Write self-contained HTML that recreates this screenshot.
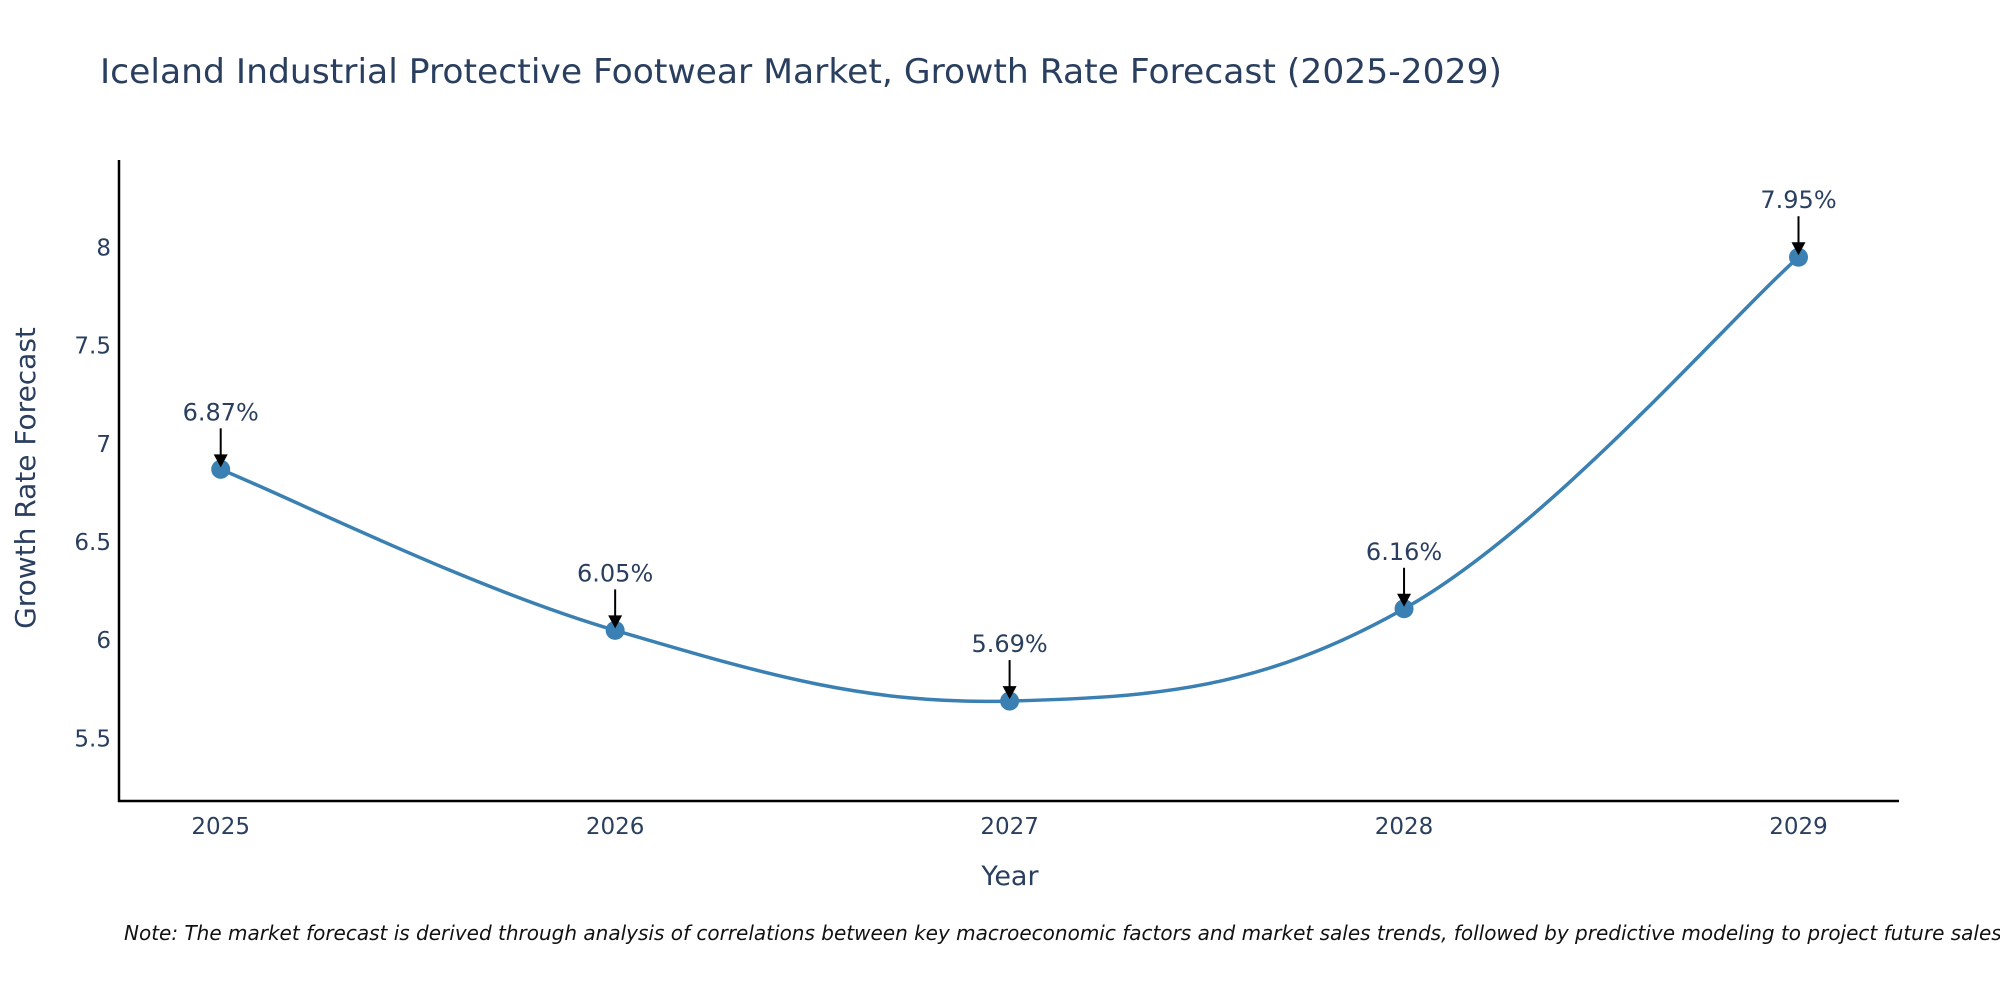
<!DOCTYPE html>
<html><head><meta charset="utf-8"><style>
html,body{margin:0;padding:0;background:#fff;}
svg{display:block;font-family:"DejaVu Sans","Liberation Sans",sans-serif;}
</style></head><body>
<svg id="chart" width="2000" height="1000" xmlns="http://www.w3.org/2000/svg">
<text x="100" y="83" font-size="34" fill="#2a3f5f" textLength="1402" lengthAdjust="spacingAndGlyphs">Iceland Industrial Protective Footwear Market, Growth Rate Forecast (2025-2029)</text>
<g id="yticks"></g><g id="xticks"></g>
<line x1="119" y1="160" x2="119" y2="802" stroke="#000" stroke-width="2.5"/>
<line x1="118" y1="801" x2="1899" y2="801" stroke="#000" stroke-width="2.5"/>
<g id="series"></g>
<text x="1010" y="885" font-size="27" fill="#2a3f5f" text-anchor="middle">Year</text>
<text transform="translate(35,478) rotate(-90)" font-size="28" fill="#2a3f5f" text-anchor="middle">Growth Rate Forecast</text>
<text x="124" y="940" font-size="20" font-style="italic" fill="#111">Note: The market forecast is derived through analysis of correlations between key macroeconomic factors and market sales trends, followed by predictive modeling to project future sales.</text>
</svg>
<script>
const years = ["2025","2026","2027","2028","2029"];
const growth = [6.87, 6.05, 5.69, 6.16, 7.95];
const yTickValues = [5.5, 6, 6.5, 7, 7.5, 8];
const yTickLabels = ["5.5","6","6.5","7","7.5","8"];
const NS = "http://www.w3.org/2000/svg";
function xs(i){ return 220.7 + i*(1798.5-220.7)/(years.length-1); }
function ys(v){ return 247.4 + (8 - v)*196.4; }
function mk(t, attrs){ const e=document.createElementNS(NS,t); for(const k in attrs) e.setAttribute(k, attrs[k]); return e; }
const yg=document.getElementById('yticks'), xg=document.getElementById('xticks'), sg=document.getElementById('series');
yTickValues.forEach((v,i)=>{
  const t=mk('text',{x:111,y:ys(v)+8,'font-size':23,fill:'#2a3f5f','text-anchor':'end'});
  
  
  t.textContent=yTickLabels[i]; yg.appendChild(t);
});
years.forEach((y,i)=>{
  const t=mk('text',{x:xs(i),y:834,'font-size':23,fill:'#2a3f5f','text-anchor':'middle'});
  
  
  t.textContent=y; xg.appendChild(t);
});
const pts=growth.map((v,i)=>[xs(i),ys(v)]);
let d='M'+pts[0][0]+','+pts[0][1];
const s=0.55;
for(let i=0;i<pts.length-1;i++){
  const p0=pts[i-1]||pts[i], p1=pts[i], p2=pts[i+1], p3=pts[i+2]||pts[i+1];
  const c1=[p1[0]+(p2[0]-p0[0])*s/3, p1[1]+(p2[1]-p0[1])*s/3];
  const c2=[p2[0]-(p3[0]-p1[0])*s/3, p2[1]-(p3[1]-p1[1])*s/3];
  d+=' C'+c1+' '+c2+' '+p2;
}
const line=mk('path',{d:d,fill:'none',stroke:'#3a80b3','stroke-width':3.5});


sg.appendChild(line);
growth.forEach((v,i)=>{
  const cx=xs(i), cy=ys(v);
  const c=mk('circle',{cx:cx,cy:cy,r:9.5,fill:'#3a80b3'});
  
  
  sg.appendChild(c);
  const a=mk('line',{x1:cx,y1:cy-41,x2:cx,y2:cy-14,stroke:'#000','stroke-width':2});
  
  
  sg.appendChild(a);
  const h=mk('path',{d:`M${cx-7},${cy-15} L${cx+7},${cy-15} L${cx},${cy-2} Z`,fill:'#000'});
  
  
  sg.appendChild(h);
  const t=mk('text',{x:cx,y:cy-49,'font-size':24,fill:'#2a3f5f','text-anchor':'middle'});
  
  
  t.textContent=v.toFixed(2)+'%';
  sg.appendChild(t);
});
</script>
</body></html>
